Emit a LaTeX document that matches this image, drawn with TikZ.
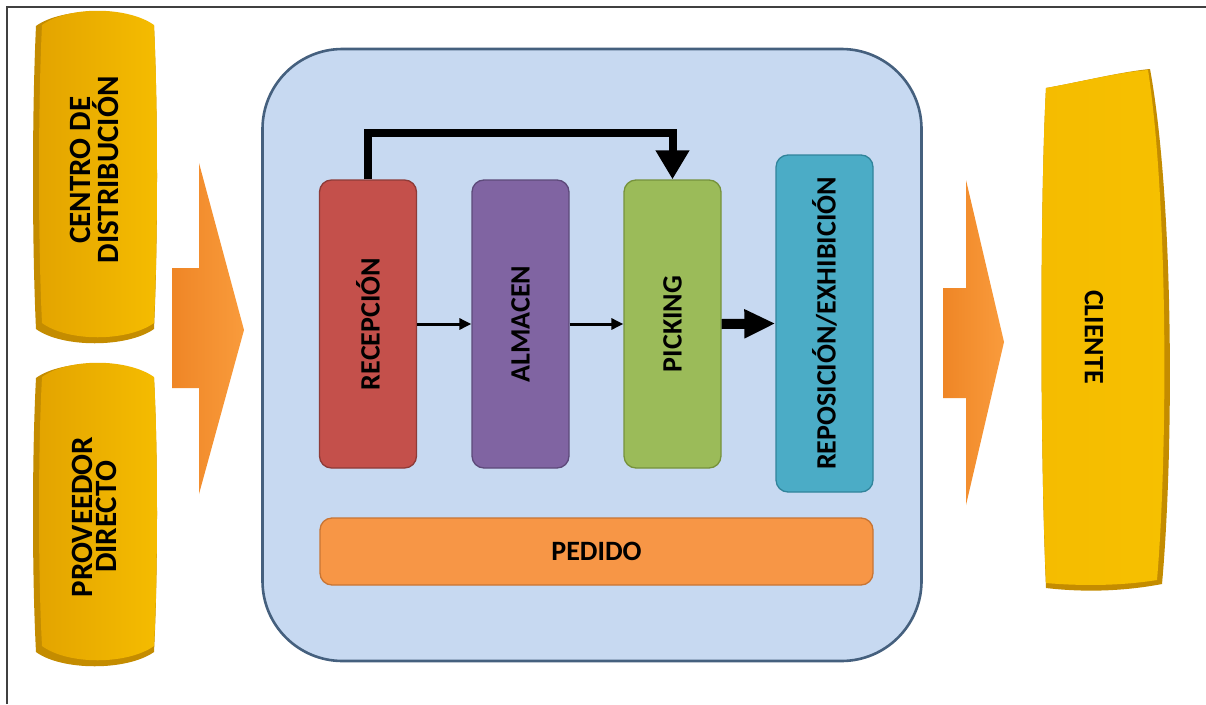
\documentclass[tikz,border=0pt]{standalone}
\usepackage{fontspec}
\setmainfont{Carlito}
\usetikzlibrary{arrows.meta}
\definecolor{yface}{HTML}{F5BC00}
\definecolor{yleft}{HTML}{E3A400}
\definecolor{yedge}{HTML}{C48C00}
\definecolor{ylight}{HTML}{FAD000}
\definecolor{orD}{HTML}{EF8626}
\definecolor{orL}{HTML}{F99B3C}
\definecolor{mainfill}{HTML}{C7D9F1}
\definecolor{maindraw}{HTML}{45607E}
\definecolor{redf}{HTML}{C4504B}
\definecolor{redd}{HTML}{8E3B38}
\definecolor{purf}{HTML}{8064A2}
\definecolor{purd}{HTML}{5D4A7A}
\definecolor{grnf}{HTML}{9BBB59}
\definecolor{grnd}{HTML}{76923C}
\definecolor{tealf}{HTML}{4BACC6}
\definecolor{teald}{HTML}{31849B}
\definecolor{pedf}{HTML}{F79646}
\definecolor{pedd}{HTML}{C87534}
\def\bulgepath#1#2#3#4{({#1+4},{#2+16}) .. controls ({#1+30},{#2-3}) and ({#3-30},{#2-3}) .. ({#3-3},{#2+16})
  .. controls ({#3+1},{#2+0.3*(#4-#2)}) and ({#3+1},{#4-0.3*(#4-#2)}) .. ({#3-3},{#4-16})
  .. controls ({#3-30},{#4+3}) and ({#1+30},{#4+3}) .. ({#1+4},{#4-16})
  .. controls ({#1},{#4-0.3*(#4-#2)}) and ({#1},{#2+0.3*(#4-#2)}) .. cycle}
\tikzset{
  lbl/.style={font=\bfseries\fontsize{28}{29}\selectfont, text=black, align=center},
  biglbl/.style={font=\bfseries\fontsize{31}{31}\selectfont, text=black, align=center},
  procbox/.style={rounded corners=12pt, line width=1.3pt, minimum width=97pt, minimum height=288pt, inner sep=0pt, lbl},
  thinarrow/.style={line width=3pt, -{Triangle[length=12pt,width=11pt]}},
  blockarrow/.style={left color=orD, right color=orL},
}
\begin{document}
\begin{tikzpicture}[x=1pt,y=-1pt]
\useasboundingbox (0,0) rectangle (1206,704);
\fill[white] (0,0) rectangle (1206,704);
\draw[line width=1.5pt, black!75] (7,704) -- (7,7) -- (1206,7);

% left yellow shapes
\fill[yedge] \bulgepath{32}{10}{157}{345};
\shade[left color=yleft, right color=yface] \bulgepath{38}{9}{157}{339};
\fill[yedge] \bulgepath{32}{362}{157}{668};
\shade[left color=yleft, right color=yface] \bulgepath{38}{361}{157}{662};
\node[biglbl] (centro) at (98,170) {\rotatebox{90}{\begin{tabular}{@{}c@{}}CENTRO DE\\[-7pt] DISTRIBUCIÓN\end{tabular}}};
\node[biglbl] (prov) at (98,517) {\rotatebox{90}{\begin{tabular}{@{}c@{}}PROVEEDOR\\[-7pt] DIRECTO\end{tabular}}};

% left block arrow
\shade[blockarrow] (172,268) -- (199,268) -- (199,163) -- (244,330) -- (199,494) -- (199,388) -- (172,388) -- cycle;

% main container
\node[draw=maindraw, fill=mainfill, line width=2.6pt, rounded corners=80pt,
      minimum width=659pt, minimum height=612pt] (main) at (592,355) {};

% process boxes
\node[procbox, draw=redd, fill=redf] (recep) at (368,324) {\rotatebox{90}{RECEPCIÓN}};
\node[procbox, draw=purd, fill=purf] (alm) at (520.5,324) {\rotatebox{90}{ALMACEN}};
\node[procbox, draw=grnd, fill=grnf] (pick) at (672.5,324) {\rotatebox{90}{PICKING}};
\node[procbox, draw=teald, fill=tealf, minimum height=337pt] (rep) at (824.5,323.5) {\rotatebox{90}{REPOSICIÓN/EXHIBICIÓN}};
\node[procbox, draw=pedd, fill=pedf, minimum width=553pt, minimum height=67pt] (ped) at (596.5,551.5) {PEDIDO};

% connectors
\draw[thinarrow] (recep.east) -- (alm.west);
\draw[thinarrow] (alm.east) -- (pick.west);
\draw[line width=10pt, -{Triangle[length=31pt,width=27pt]}] (pick.east) -- (rep.west);
\draw[line width=8pt, -{Triangle[length=29pt,width=32pt]}] (recep.north) -- ++(0,-46) -| (pick.north);

% right block arrow
\shade[blockarrow] (943,288) -- (966,288) -- (966,180) -- (1004,342) -- (966,505) -- (966,398) -- (943,398) -- cycle;

% cliente
\fill[yedge] (1046,88) .. controls (1080,82) and (1120,72) .. (1150,69)
  .. controls (1174,200) and (1174,450) .. (1162,584)
  .. controls (1120,592) and (1080,592) .. (1046,588)
  .. controls (1040,450) and (1040,200) .. cycle;
\shade[left color=yface, right color=yface!80!ylight] (1046,88) .. controls (1080,82) and (1120,72) .. (1148,70)
  .. controls (1168,200) and (1168,450) .. (1157,580)
  .. controls (1120,586) and (1080,586) .. (1046,583)
  .. controls (1040,450) and (1040,200) .. cycle;
\node[lbl] (cliente) at (1094,337) {\rotatebox{-90}{CLIENTE}};
\end{tikzpicture}
\end{document}
